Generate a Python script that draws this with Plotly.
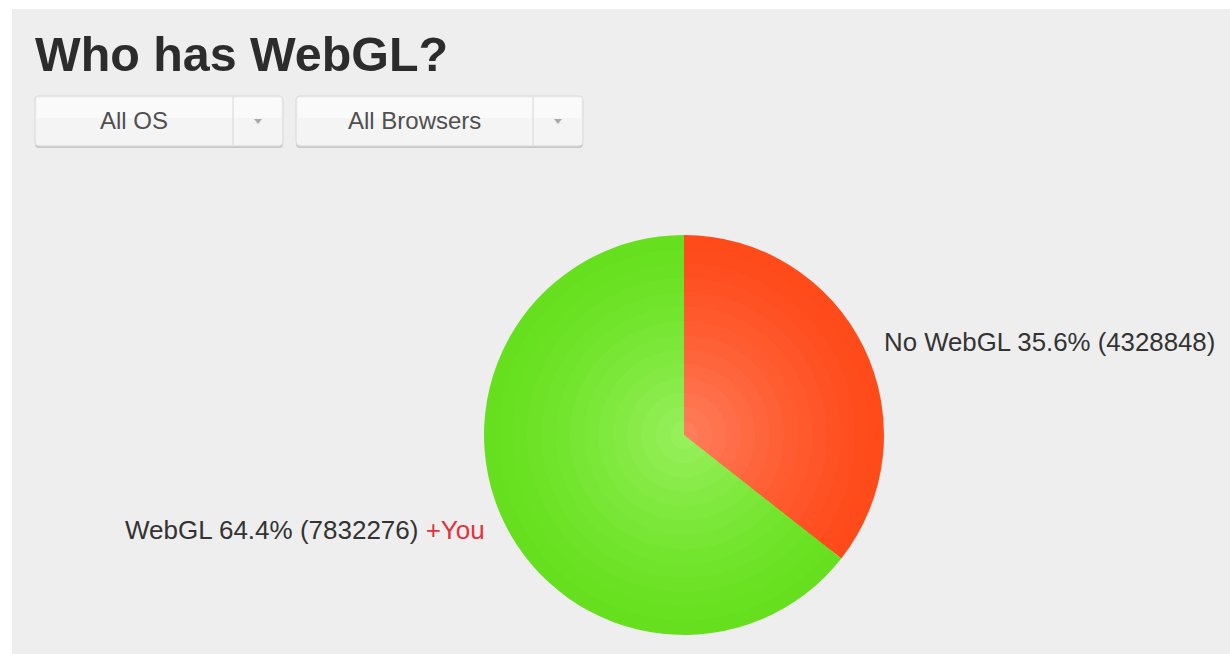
import plotly.graph_objects as go

# ---- data ----
categories = ["No WebGL", "WebGL"]
counts = [4328848, 7832276]
percents = ["35.6%", "64.4%"]
edge_colors = [(255, 74, 26), (102, 224, 30)]     # slice colour at the rim
center_colors = [(255, 125, 90), (150, 240, 90)]  # slice colour near the centre
title_text = "Who has WebGL?"
filters = ["All OS", "All Browsers"]
you_suffix = "+You"

W, H = 1230, 654
FONT = "Arial, 'Liberation Sans', sans-serif"

def px(x):
    return x / W

def py(y):
    return 1 - y / H

fig = go.Figure()

# pie with a radial shading made of stacked concentric layers
cx, cy, R = 684, 435, 200
layers = 14
for i in range(layers):
    t = i / (layers - 1)          # 0 at rim, 1 near centre
    r = R * (1 - 0.93 * t)
    cols = []
    for e, c in zip(edge_colors, center_colors):
        k = t ** 1.3
        rgb = tuple(round(e[j] + (c[j] - e[j]) * k) for j in range(3))
        cols.append("rgb(%d,%d,%d)" % rgb)
    fig.add_trace(go.Pie(
        labels=categories,
        values=counts,
        sort=False,
        direction="clockwise",
        rotation=0,
        marker=dict(colors=cols, line=dict(width=0)),
        textinfo="none",
        hoverinfo="label+percent+value" if i == 0 else "skip",
        showlegend=False,
        domain=dict(x=[px(cx - r), px(cx + r)], y=[py(cy + r), py(cy - r)]),
    ))

shapes = []
# white border strips (page outside the panel)
shapes.append(dict(type="rect", xref="paper", yref="paper", x0=0, x1=px(12), y0=0, y1=1,
                   fillcolor="white", line=dict(width=0), layer="below"))
shapes.append(dict(type="rect", xref="paper", yref="paper", x0=0, x1=1, y0=py(9), y1=1,
                   fillcolor="white", line=dict(width=0), layer="below"))

def rounded_path(x0, y0, x1, y1, r):
    def P(x, y):
        return f"{px(x):.5f},{py(y):.5f}"
    return (f"M {P(x0 + r, y0)} L {P(x1 - r, y0)} Q {P(x1, y0)} {P(x1, y0 + r)} "
            f"L {P(x1, y1 - r)} Q {P(x1, y1)} {P(x1 - r, y1)} "
            f"L {P(x0 + r, y1)} Q {P(x0, y1)} {P(x0, y1 - r)} "
            f"L {P(x0, y0 + r)} Q {P(x0, y0)} {P(x0 + r, y0)} Z")

buttons = [(35, 96, 283, 146, 233), (296, 96, 583, 146, 533)]
annotations = []
for (x0, y0, x1, y1, xd), label in zip(buttons, filters):
    shapes.append(dict(type="path", xref="paper", yref="paper",
                       path=rounded_path(x0, y0 + 2, x1, y1 + 2, 4),
                       fillcolor="#c8c8c8", line=dict(width=0)))
    shapes.append(dict(type="path", xref="paper", yref="paper",
                       path=rounded_path(x0, y0, x1, y1, 4),
                       fillcolor="#f4f4f4", line=dict(color="#d8d8d8", width=1)))
    shapes.append(dict(type="rect", xref="paper", yref="paper",
                       x0=px(x0 + 2), x1=px(x1 - 2), y0=py(y0 + 22), y1=py(y0 + 2),
                       fillcolor="#fafafa", line=dict(width=0)))
    shapes.append(dict(type="line", xref="paper", yref="paper",
                       x0=px(xd), x1=px(xd), y0=py(y0 + 1), y1=py(y1 - 1),
                       line=dict(color="#d6d6d6", width=1)))
    ax = (xd + x1) / 2
    ay = (y0 + y1) / 2
    shapes.append(dict(type="path", xref="paper", yref="paper",
                       path=f"M {px(ax-4):.5f},{py(ay-2):.5f} L {px(ax+4):.5f},{py(ay-2):.5f} L {px(ax):.5f},{py(ay+3):.5f} Z",
                       fillcolor="#aaaaaa", line=dict(width=0)))
    annotations.append(dict(x=px((x0 + xd) / 2), y=py(ay), xref="paper", yref="paper",
                            text=label, showarrow=False, xanchor="center", yanchor="middle",
                            font=dict(family=FONT, size=24, color="#505050")))

# title
annotations.append(dict(x=px(33), y=py(54), xref="paper", yref="paper", text=f"<b>{title_text}</b>",
                        showarrow=False, xanchor="left", yanchor="middle",
                        font=dict(family=FONT, size=48.4, color="#2c2c2c")))

# slice labels
annotations.append(dict(x=px(882), y=py(342), xref="paper", yref="paper",
                        text=f"{categories[0]} {percents[0]} ({counts[0]})",
                        showarrow=False, xanchor="left", yanchor="middle",
                        font=dict(family=FONT, size=25.8, color="#333333")))
annotations.append(dict(x=px(487), y=py(530), xref="paper", yref="paper",
                        text=f"{categories[1]} {percents[1]} ({counts[1]}) <span style='color:#e4323c'>{you_suffix}</span>",
                        showarrow=False, xanchor="right", yanchor="middle",
                        font=dict(family=FONT, size=26, color="#333333")))

fig.update_layout(
    width=W, height=H, autosize=False,
    margin=dict(l=0, r=0, t=0, b=0),
    paper_bgcolor="#eeeeee",
    plot_bgcolor="#eeeeee",
    shapes=shapes,
    annotations=annotations,
)

fig.write_html("out.html")
